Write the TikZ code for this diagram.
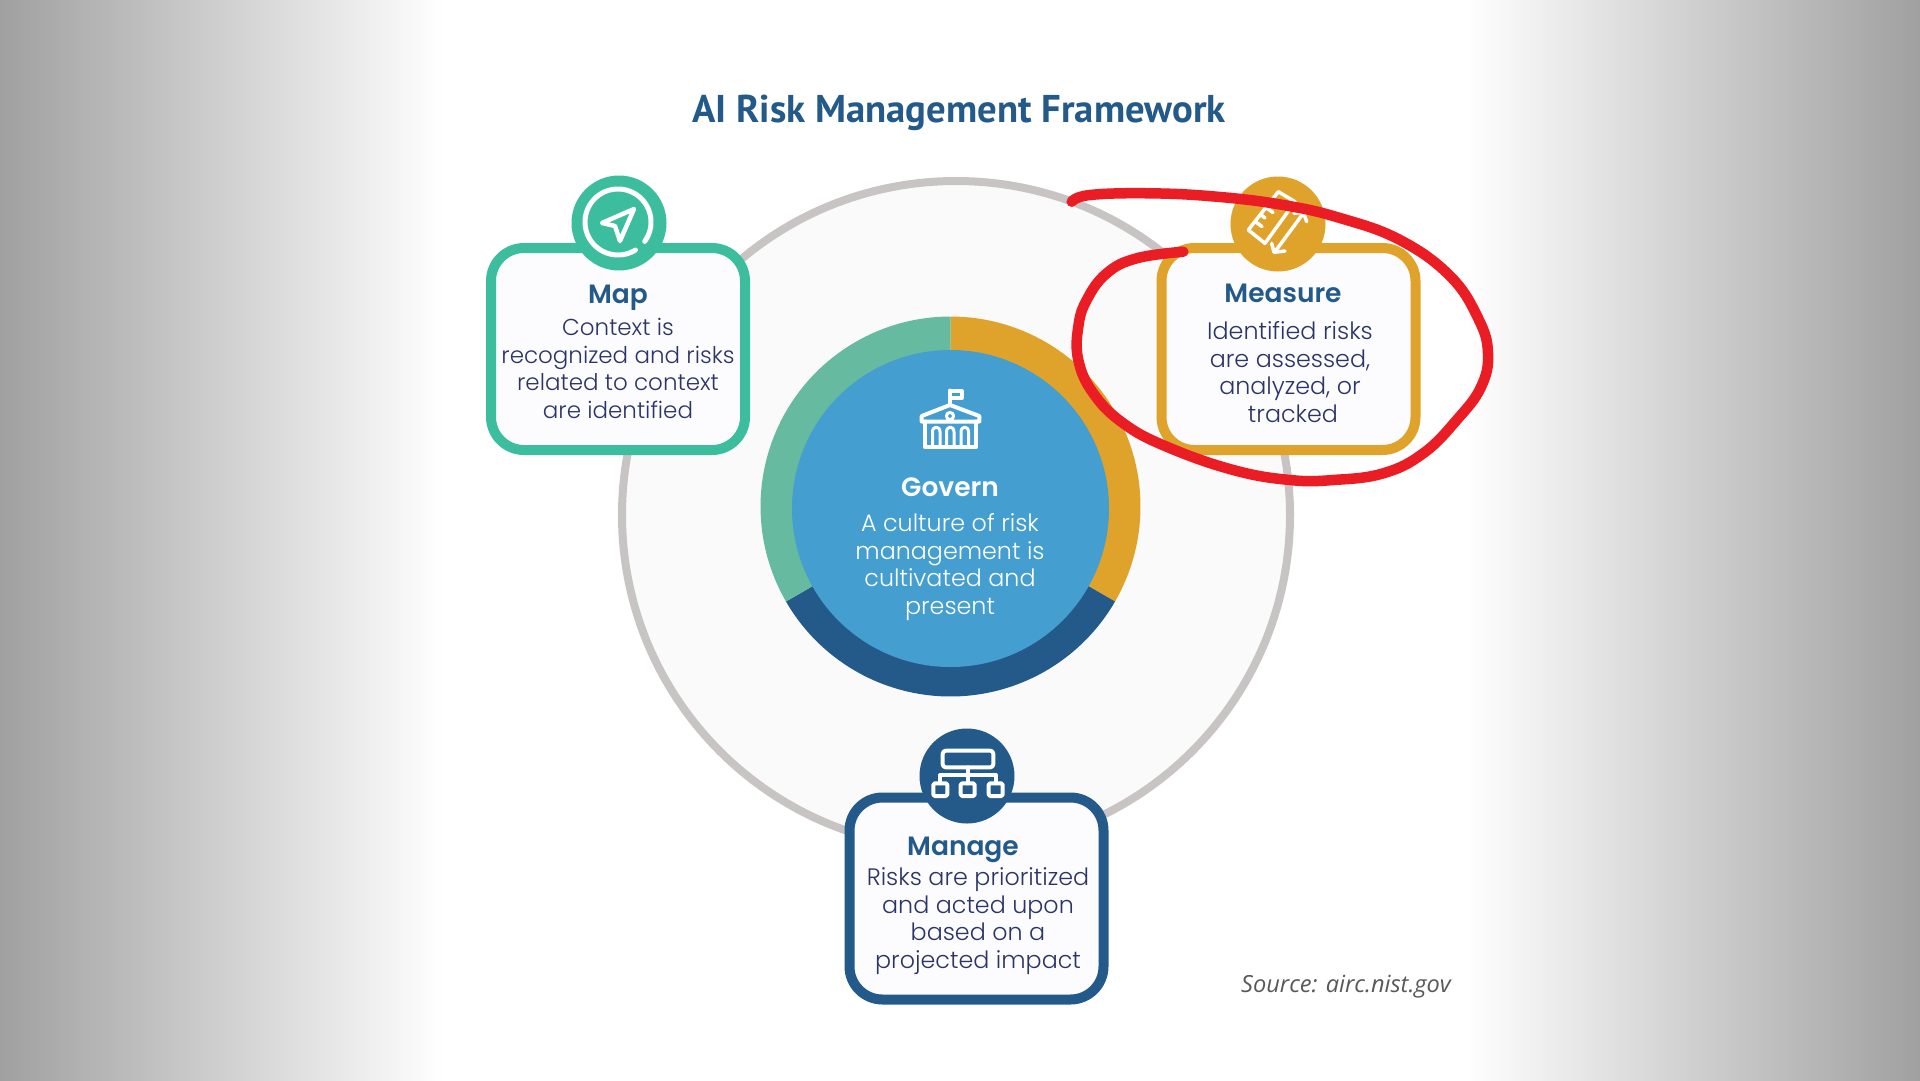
\documentclass[tikz,border=0pt]{standalone}
\usepackage{fontspec}
\setmainfont{Poppins}
\newfontfamily\bodyf{Poppins Light}
\newfontfamily\headf{Poppins SemiBold}
\newfontfamily\titlef{PT Sans}
\newfontfamily\srcf{Open Sans}
\definecolor{teal1}{HTML}{3CBD9D}
\definecolor{gold1}{HTML}{DFA32B}
\definecolor{navy1}{HTML}{235A8A}
\definecolor{blue1}{HTML}{449ED0}
\definecolor{green1}{HTML}{66BA9F}
\definecolor{ink1}{HTML}{2B3467}
\definecolor{ringgray}{HTML}{C8C4C4}
\definecolor{discfill}{HTML}{FAFAFA}
\definecolor{boxfill}{HTML}{FCFCFE}
\definecolor{red1}{HTML}{EA1C24}
\definecolor{sidegray}{HTML}{A0A0A0}
\tikzset{
  cardbox/.style={draw=#1,line width=10pt,fill=boxfill,rounded corners=33pt,inner sep=0pt,minimum width=254pt,minimum height=202pt},
  badge/.style={circle,fill=#1,minimum size=95pt,inner sep=0pt},
  cardhead/.style={anchor=base,text=navy1,font=\headf\fontsize{26.5}{30}\selectfont},
  cardbody/.style={anchor=base,align=center,text=ink1,font=\bodyf\fontsize{23.8}{27.5}\selectfont},
  iconline/.style={draw=white,line width=4pt,line join=round,line cap=round},
}
\begin{document}
\begin{tikzpicture}[x=1pt,y=-1pt]
\useasboundingbox (0,0) rectangle (1920,1080);
% background
\fill[white] (0,0) rectangle (1920,1080);
\shade[left color=sidegray,right color=white] (0,0) rectangle (445,1080);
\shade[left color=white,right color=sidegray] (1465,0) rectangle (1920,1080);
% title
\node[anchor=base,text=navy1,font=\titlef\bfseries\fontsize{38.7}{44}\selectfont] (title) at (959,122) {AI Risk Management Framework};
% outer disc
\node[circle,draw=ringgray,fill=discfill,line width=8pt,minimum size=668pt,inner sep=0pt] (disc) at (956,515) {};
% govern ring
\fill[gold1] (950.5,506.5) -- plot[domain=-90:30,samples=60] ({950.5+190*cos(\x)},{506.5+190*sin(\x)}) -- cycle;
\fill[navy1] (950.5,506.5) -- plot[domain=30:150,samples=60] ({950.5+190*cos(\x)},{506.5+190*sin(\x)}) -- cycle;
\fill[green1] (950.5,506.5) -- plot[domain=150:270,samples=60] ({950.5+190*cos(\x)},{506.5+190*sin(\x)}) -- cycle;
\node[circle,fill=blue1,minimum size=317pt,inner sep=0pt] (govern) at (950.5,508.5) {};
% govern icon
\draw[iconline] (950,405) -- (950,390.5);
\draw[iconline] (950,391) rectangle (961.5,398);
\draw[iconline] (921.7,416) -- (950,405) -- (979.3,416) -- (979.3,421.5) -- (921.7,421.5) -- cycle;
\draw[iconline,line width=3pt] (950,416) circle (3.6);
\draw[iconline] (925,421.5) -- (925,447.3) -- (976,447.3) -- (976,421.5);
\draw[iconline,line width=3pt] (932.5,447) -- (932.5,432) .. controls (932.5,425.5) and (940,425.5) .. (940,432) -- (940,447);
\draw[iconline,line width=3pt] (946.5,447) -- (946.5,432) .. controls (946.5,425.5) and (954,425.5) .. (954,432) -- (954,447);
\draw[iconline,line width=3pt] (961,447) -- (961,432) .. controls (961,425.5) and (968.5,425.5) .. (968.5,432) -- (968.5,447);
\node[cardhead,text=white] (governhead) at (950,496) {Govern};
\node[cardbody,text=white] (governtext) at (950,614) {A culture of risk\\management is\\cultivated and\\present};
% map
\node[cardbox=teal1] (mapbox) at (618,349) {};
\node[badge=teal1] (mapbadge) at (619,223) {};
\draw[iconline,line width=5pt] plot[domain=58:396,samples=80] ({618+33*cos(\x)},{222+33*sin(\x)});
\draw[iconline,line width=4.5pt] (634,209) -- (602,223) -- (615,226) -- (620,241) -- cycle;
\node[cardhead] (maphead) at (618,303) {Map};
\node[cardbody,font=\bodyf\fontsize{23}{27.5}\selectfont] (maptext) at (618,418) {Context is\\recognized and risks\\related to context\\are identified};
% measure
\node[cardbox=gold1] (measurebox) at (1288.5,349) {};
\node[badge=gold1] (measurebadge) at (1278,224) {};
\draw[iconline,line width=3.5pt] (1248.3,230) -- (1278.3,191.7) -- (1295,201.7) -- (1265,243.3) -- cycle;
\draw[iconline,line width=3.5pt] (1255,221.5) -- (1262,226.5) (1260.5,214.5) -- (1265,218) (1266,207.5) -- (1273,212.5) (1272,200) -- (1276.5,203.5);
\draw[iconline,line width=3.5pt] (1303.3,213.3) -- (1275,251.7);
\draw[iconline,line width=3.5pt] (1294,213.3) -- (1303.3,212.3) -- (1306.7,221.7);
\draw[iconline,line width=3.5pt] (1271.7,243.3) -- (1274,252.3) -- (1285,251);
\node[cardhead] (measurehead) at (1283,302) {Measure};
\node[cardbody] (measuretext) at (1290,422) {Identified risks\\are assessed,\\analyzed, or\\\hspace*{6pt}tracked};
% manage
\node[cardbox=navy1] (managebox) at (976.5,898.5) {};
\node[badge=navy1] (managebadge) at (967,776) {};
\draw[iconline,rounded corners=3pt] (942.7,750.7) rectangle (993.3,767.3);
\draw[iconline] (968,767.3) -- (968,775);
\draw[iconline] (940.3,783.3) -- (940.3,775) -- (995.7,775) -- (995.7,783.3);
\draw[iconline] (967.7,775) -- (967.7,783.3);
\draw[iconline,rounded corners=1.5pt] (933.3,783.3) rectangle (947.3,796);
\draw[iconline,rounded corners=1.5pt] (960.7,783.3) rectangle (974.7,796);
\draw[iconline,rounded corners=1.5pt] (988.7,783.3) rectangle (1002.7,796);
\node[cardhead] (managehead) at (963,855) {Manage};
\node[cardbody] (managetext) at (978,968) {Risks are prioritized\\and acted upon\\based on a\\projected impact};
% source
\node[anchor=base,text=black!65,font=\srcf\itshape\fontsize{23.6}{26}\selectfont] (source) at (1346,992) {Source: airc.nist.gov};
% hand-drawn red ellipse
\draw[red1,line width=10.5pt,line cap=round,line join=round] plot[smooth,tension=0.7] coordinates {(1071.7,201.7) (1090,195) (1150,193.3) (1216.7,196.7) (1283.3,205) (1340,218) (1400,240) (1450,276) (1478,318) (1488,353) (1481,387) (1456.7,420) (1423.3,453.3) (1383.3,473.3) (1333.3,480) (1290,480) (1233.3,470) (1166.7,446.7) (1123.3,423.3) (1093.3,393.3) (1078.3,360) (1078.3,326.7) (1086.7,300) (1106.7,273.3) (1136.7,258.3) (1183.3,251.7)};
\end{tikzpicture}
\end{document}
